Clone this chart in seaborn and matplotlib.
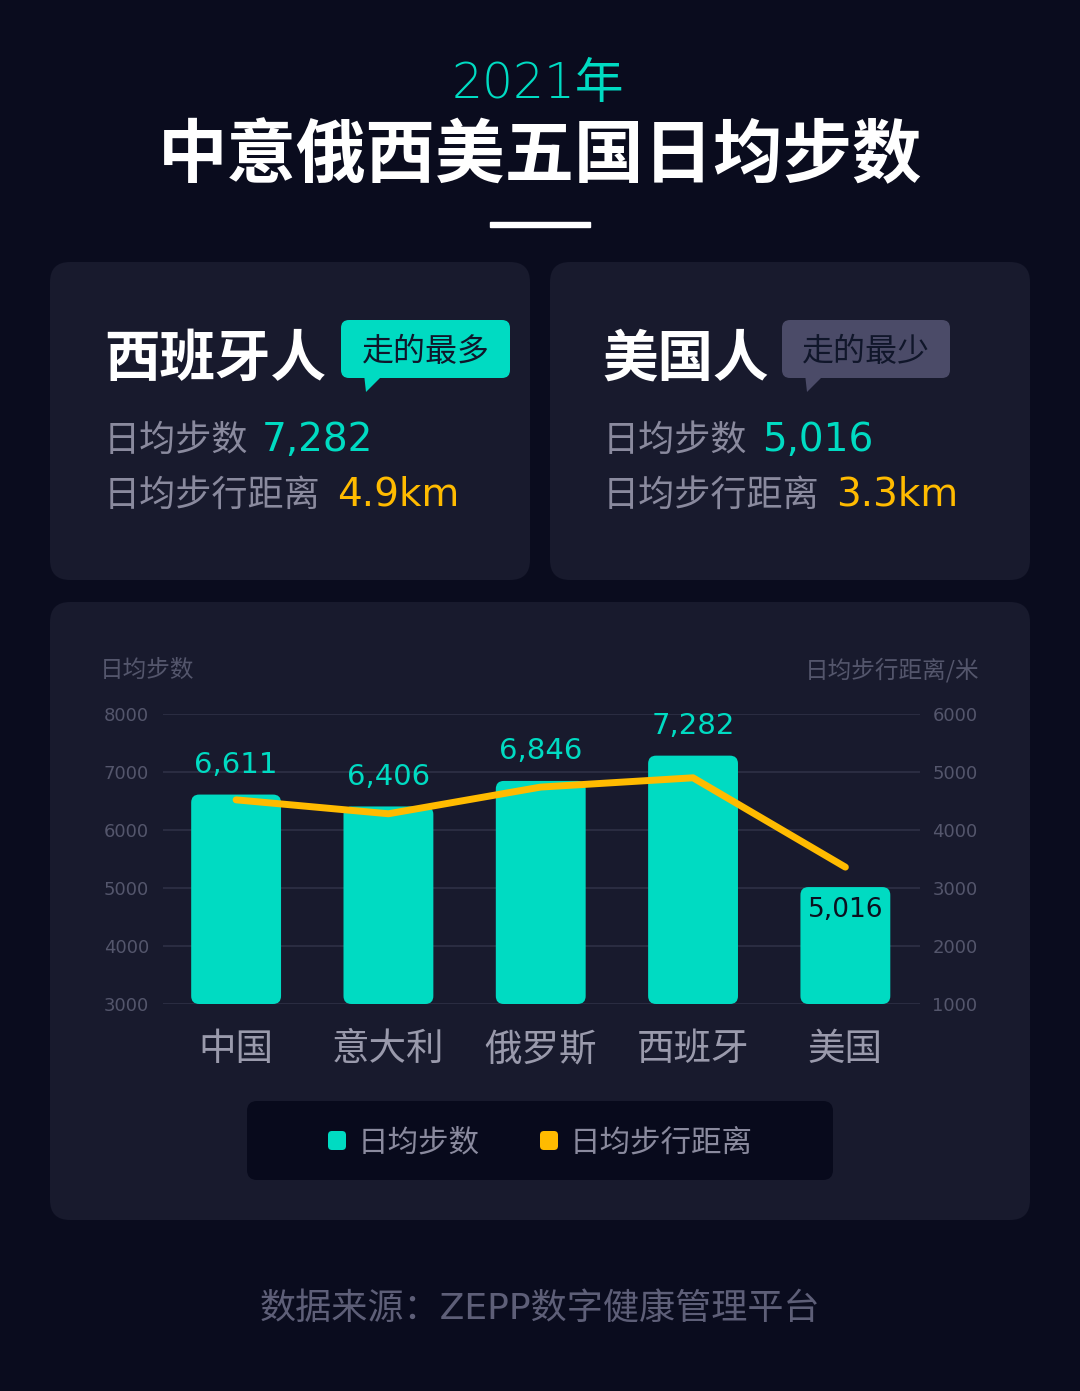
import numpy as np
import seaborn as sns
import matplotlib
matplotlib.use("Agg")
import matplotlib.pyplot as plt
from matplotlib.patches import FancyBboxPatch, Polygon, Rectangle

# data
countries = ["中国", "意大利", "俄罗斯", "西班牙", "美国"]
steps = [6611, 6406, 6846, 7282, 5016]
step_labels = ["6,611", "6,406", "6,846", "7,282", "5,016"]
distance_m = [4520, 4280, 4740, 4900, 3360]
left_ticks = [3000, 4000, 5000, 6000, 7000, 8000]
right_ticks = [1000, 2000, 3000, 4000, 5000, 6000]

# colours
BG = "#0a0c1e"
CARD = "#181a2d"
TEAL = "#00dbc2"
YELLOW = "#ffbb00"
GRAY = "#8a8a9e"
DIM = "#54566c"
GRID = "#2e3046"

sns.set_style("dark")
plt.rcParams["font.family"] = ["Noto Sans CJK SC", "DejaVu Sans"]
NUM = ["DejaVu Sans", "Noto Sans CJK SC"]

W, H = 1080, 1391
fig = plt.figure(figsize=(W / 100, H / 100), dpi=100, facecolor=BG)

# background layer in pixel coords
bg = fig.add_axes([0, 0, 1, 1], zorder=0)
bg.set_xlim(0, W)
bg.set_ylim(H, 0)
bg.axis("off")
bg.add_patch(Rectangle((0, 0), W, H, color=BG, zorder=0))

def card(x0, y0, x1, y1, color, r):
    bg.add_patch(FancyBboxPatch((x0, y0), x1 - x0, y1 - y0,
                                boxstyle=f"round,pad=0,rounding_size={r}",
                                fc=color, ec="none", zorder=1))

# header
bg.text(538, 84, "2021年", color=TEAL, fontsize=35, family=NUM, fontweight="light",
        ha="center", va="center")
bg.text(540, 157, "中意俄西美五国日均步数", color="white", fontsize=50,
        fontweight="black", ha="center", va="center")
bg.add_patch(Rectangle((490, 222), 100, 5, color="white", zorder=2))

# cards
card(50, 262, 530, 580, CARD, 20)
card(550, 262, 1030, 580, CARD, 20)
card(50, 602, 1030, 1220, CARD, 20)

# left card
bg.text(104, 360, "西班牙人", color="white", fontsize=40, fontweight="black",
        ha="left", va="center", zorder=3)
card(341, 320, 510, 378, TEAL, 8)
bg.add_patch(Polygon([(364, 374), (384, 374), (366, 392)], closed=True,
                     fc=TEAL, ec="none", zorder=1))
bg.text(426, 352, "走的最多", color="#10162a", fontsize=23, ha="center",
        va="center", zorder=3)
bg.text(104, 441, "日均步数", color=GRAY, fontsize=26, ha="left", va="center", zorder=3)
bg.text(262, 440, "7,282", color=TEAL, fontsize=28, family=NUM, ha="left",
        va="center", zorder=3)
bg.text(104, 496, "日均步行距离", color=GRAY, fontsize=26, ha="left", va="center", zorder=3)
bg.text(337, 495, "4.9km", color=YELLOW, fontsize=28, family=NUM, ha="left",
        va="center", zorder=3)

# right card
bg.text(602, 360, "美国人", color="white", fontsize=40, fontweight="black",
        ha="left", va="center", zorder=3)
card(782, 320, 950, 378, "#4b4b68", 8)
bg.add_patch(Polygon([(805, 374), (825, 374), (807, 392)], closed=True,
                     fc="#4b4b68", ec="none", zorder=1))
bg.text(866, 352, "走的最少", color="#10162a", fontsize=23, ha="center",
        va="center", zorder=3)
bg.text(603, 441, "日均步数", color=GRAY, fontsize=26, ha="left", va="center", zorder=3)
bg.text(762, 440, "5,016", color=TEAL, fontsize=28, family=NUM, ha="left",
        va="center", zorder=3)
bg.text(603, 496, "日均步行距离", color=GRAY, fontsize=26, ha="left", va="center", zorder=3)
bg.text(836, 495, "3.3km", color=YELLOW, fontsize=28, family=NUM, ha="left",
        va="center", zorder=3)

# axis titles
bg.text(100, 670, "日均步数", color=DIM, fontsize=17, ha="left", va="center", zorder=3)
bg.text(979, 670, "日均步行距离/米", color=DIM, fontsize=17, ha="right", va="center", zorder=3)

# legend
card(247, 1101, 833, 1180, "#080a1c", 10)
bg.add_patch(FancyBboxPatch((328, 1131), 18, 19, boxstyle="round,pad=0,rounding_size=4",
                            fc=TEAL, ec="none", zorder=3))
bg.text(358, 1143, "日均步数", color=GRAY, fontsize=22, ha="left", va="center", zorder=3)
bg.add_patch(FancyBboxPatch((540, 1131), 18, 19, boxstyle="round,pad=0,rounding_size=4",
                            fc=YELLOW, ec="none", zorder=3))
bg.text(570, 1143, "日均步行距离", color=GRAY, fontsize=22, ha="left", va="center", zorder=3)

# source
bg.text(540, 1309, "数据来源：ZEPP数字健康管理平台", color="#5e5f78", fontsize=26,
        family=NUM, ha="center", va="center", zorder=3)

# chart
ax_l, ax_b, ax_w, ax_h = 163, 387, 757, 290
ax = fig.add_axes([ax_l / W, ax_b / H, ax_w / W, ax_h / H], zorder=2)
ax.set_facecolor("none")
xlim = (-0.48, 4.49)
ylim = (3000, 8000)

sns.barplot(x=countries, y=steps, color=TEAL, width=0.59, saturation=1, ax=ax)
ax.set_xlim(*xlim)
ax.set_ylim(*ylim)

# rounded bars starting at 3000
pxx = ax_w / (xlim[1] - xlim[0])
pxy = ax_h / (ylim[1] - ylim[0])
r_px = 8
for p in list(ax.patches):
    x, w, h = p.get_x(), p.get_width(), p.get_height()
    p.remove()
    ax.add_patch(FancyBboxPatch((x, ylim[0]), w, h - ylim[0],
                                boxstyle=f"round,pad=0,rounding_size={r_px / pxx}",
                                mutation_aspect=pxx / pxy, fc=TEAL, ec="none",
                                zorder=2, clip_on=False))

for i, (v, lab) in enumerate(zip(steps, step_labels)):
    if v < 5500:
        ax.text(i, v - 395, lab, color="#0b1020", fontsize=19, family=NUM,
                ha="center", va="center", zorder=5)
    else:
        ax.text(i, v + 510, lab, color=TEAL, fontsize=21, family=NUM,
                ha="center", va="center", zorder=5, clip_on=False)

ax.set_yticks(left_ticks)
ax.set_yticklabels([str(t) for t in left_ticks], family=NUM, fontsize=13, color=DIM)
ax.tick_params(axis="y", length=0, pad=10)
ax.tick_params(axis="x", length=0, pad=19, labelsize=27, labelcolor="#9a9aac")
ax.grid(axis="y", color=GRID, linewidth=1.2)
ax.grid(axis="x", visible=False)
ax.set_axisbelow(True)
for s in ax.spines.values():
    s.set_visible(False)
ax.set_xlabel("")
ax.set_ylabel("")

ax2 = ax.twinx()
ax2.set_zorder(3)
ax2.set_facecolor("none")
sns.lineplot(x=np.arange(len(countries)), y=distance_m, color=YELLOW, linewidth=5,
             solid_capstyle="round", solid_joinstyle="round", ax=ax2, zorder=4)
ax2.set_xlim(*xlim)
ax2.set_ylim(1000, 6000)
ax2.set_yticks(right_ticks)
ax2.set_yticklabels([str(t) for t in right_ticks], family=NUM, fontsize=13, color=DIM)
ax2.tick_params(axis="y", length=0, pad=9)
ax2.grid(False)
for s in ax2.spines.values():
    s.set_visible(False)
ax2.set_ylabel("")

fig.savefig("out.png", dpi=100, facecolor=BG)
